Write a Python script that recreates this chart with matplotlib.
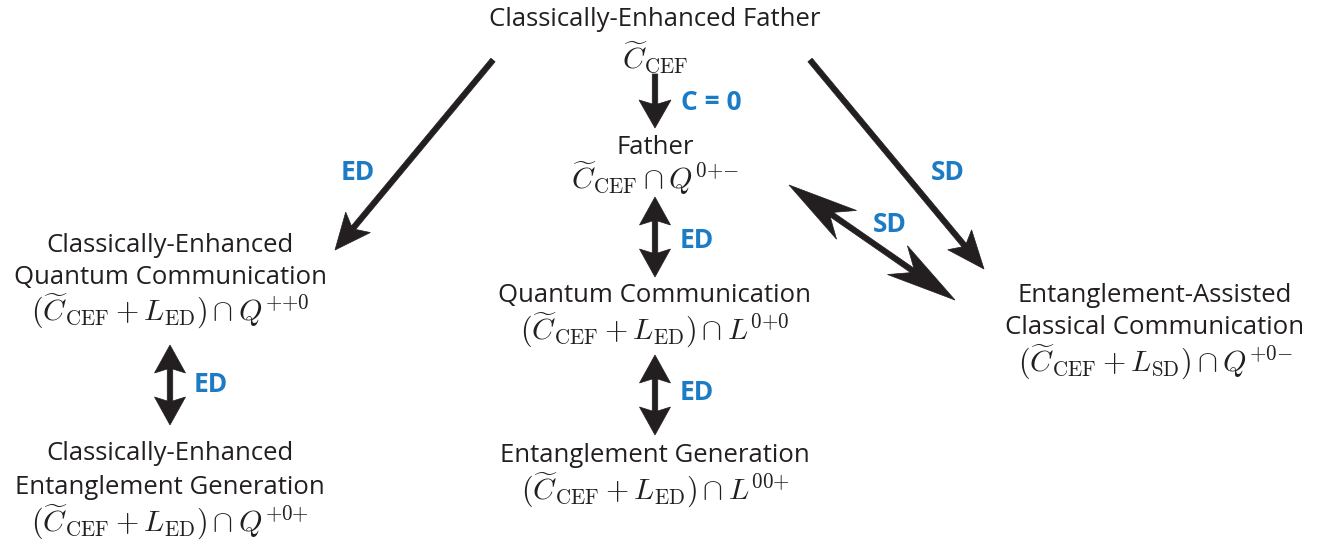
import matplotlib
matplotlib.use("Agg")
import numpy as np
import matplotlib.pyplot as plt
from matplotlib.patches import Polygon

plt.rcParams['mathtext.fontset'] = 'cm'

# node texts
names = [
    ["Classically-Enhanced Father"],
    ["Father"],
    ["Classically-Enhanced", "Quantum Communication"],
    ["Quantum Communication"],
    ["Entanglement-Assisted", "Classical Communication"],
    ["Classically-Enhanced", "Entanglement Generation"],
    ["Entanglement Generation"],
]
formulas = [
    r"$\widetilde{C}_{\mathrm{CEF}}$",
    r"$\widetilde{C}_{\mathrm{CEF}}\cap Q^{0{+}{-}}$",
    r"$(\widetilde{C}_{\mathrm{CEF}}+L_{\mathrm{ED}})\cap Q^{{+}{+}0}$",
    r"$(\widetilde{C}_{\mathrm{CEF}}+L_{\mathrm{ED}})\cap L^{0{+}0}$",
    r"$(\widetilde{C}_{\mathrm{CEF}}+L_{\mathrm{SD}})\cap Q^{{+}0{-}}$",
    r"$(\widetilde{C}_{\mathrm{CEF}}+L_{\mathrm{ED}})\cap Q^{{+}0{+}}$",
    r"$(\widetilde{C}_{\mathrm{CEF}}+L_{\mathrm{ED}})\cap L^{00{+}}$",
]
edge_labels = ["C = 0", "ED", "SD", "SD", "ED", "ED", "ED"]

# layout (pixel coordinates)
node_xy = [(655, 20), (655, 147), (170, 245), (655, 295), (1155, 295),
           (170, 454), (655, 456)]
formula_dy = [38, 31, 66, 35, 67, 68, 34]

# start, end, two-headed, label position, head length, head width, notch
edges = [
    ((655, 74), (655, 128), False, (711, 103), 28, 32, 4),
    ((493, 60), (335, 250), False, (358, 172), 36, 32, 7),
    ((810, 60), (984, 269), False, (948, 172), 38, 31, 7),
    ((789, 185), (955, 300), True, (890, 225), 70, 35, 18),
    ((655, 197), (655, 277), True, (697, 240), 28, 31, 4),
    ((655, 355), (655, 435), True, (697, 393), 28, 31, 4),
    ((170, 345), (170, 425), True, (211, 385), 28, 31, 4),
]
shaft = 5.5

black = "#231f20"
blue = "#1b7bc4"
font = "Open Sans"

fig = plt.figure(figsize=(13.22, 5.46), dpi=100)
ax = fig.add_axes([0, 0, 1, 1])
ax.set_xlim(0, 1322)
ax.set_ylim(546, 0)
ax.axis("off")

for (x, y), lines, f, dy in zip(node_xy, names, formulas, formula_dy):
    for i, line in enumerate(lines):
        ax.text(x, y + i * 33, line, ha="center", va="center",
                fontsize=18.5, family=font, color=black)
    ax.text(x, y + dy, f, ha="center", va="center", fontsize=21.5, color=black)


def head_pts(tip, u, n, hl, hw, notch, side):
    tip = np.asarray(tip, float)
    wing = tip - u * hl + side * n * hw / 2
    neck = tip - u * (hl - notch) + side * n * shaft / 2
    return [wing, neck]


def arrow(p0, p1, both, hl, hw, notch):
    p0 = np.asarray(p0, float)
    p1 = np.asarray(p1, float)
    u = (p1 - p0) / np.hypot(*(p1 - p0))
    n = np.array([-u[1], u[0]])
    if both:
        a = head_pts(p0, -u, n, hl, hw, notch, 1)
        b = head_pts(p0, -u, n, hl, hw, notch, -1)
        start = [b[0], p0, a[0], a[1]]
        start_back = [b[1]]
    else:
        start = [p0 + n * shaft / 2]
        start_back = [p0 - n * shaft / 2]
    c = head_pts(p1, u, n, hl, hw, notch, 1)
    d = head_pts(p1, u, n, hl, hw, notch, -1)
    pts = start + [c[1], c[0], p1, d[0], d[1]] + start_back
    ax.add_patch(Polygon(pts, closed=True, fc=black, ec=black, lw=0.5))


for (p0, p1, both, lp, hl, hw, notch), lab in zip(edges, edge_labels):
    arrow(p0, p1, both, hl, hw, notch)
    ax.text(lp[0], lp[1], lab, ha="center", va="center", fontsize=19,
            family=font, fontweight="bold", color=blue)

fig.savefig("out.png", dpi=100)
